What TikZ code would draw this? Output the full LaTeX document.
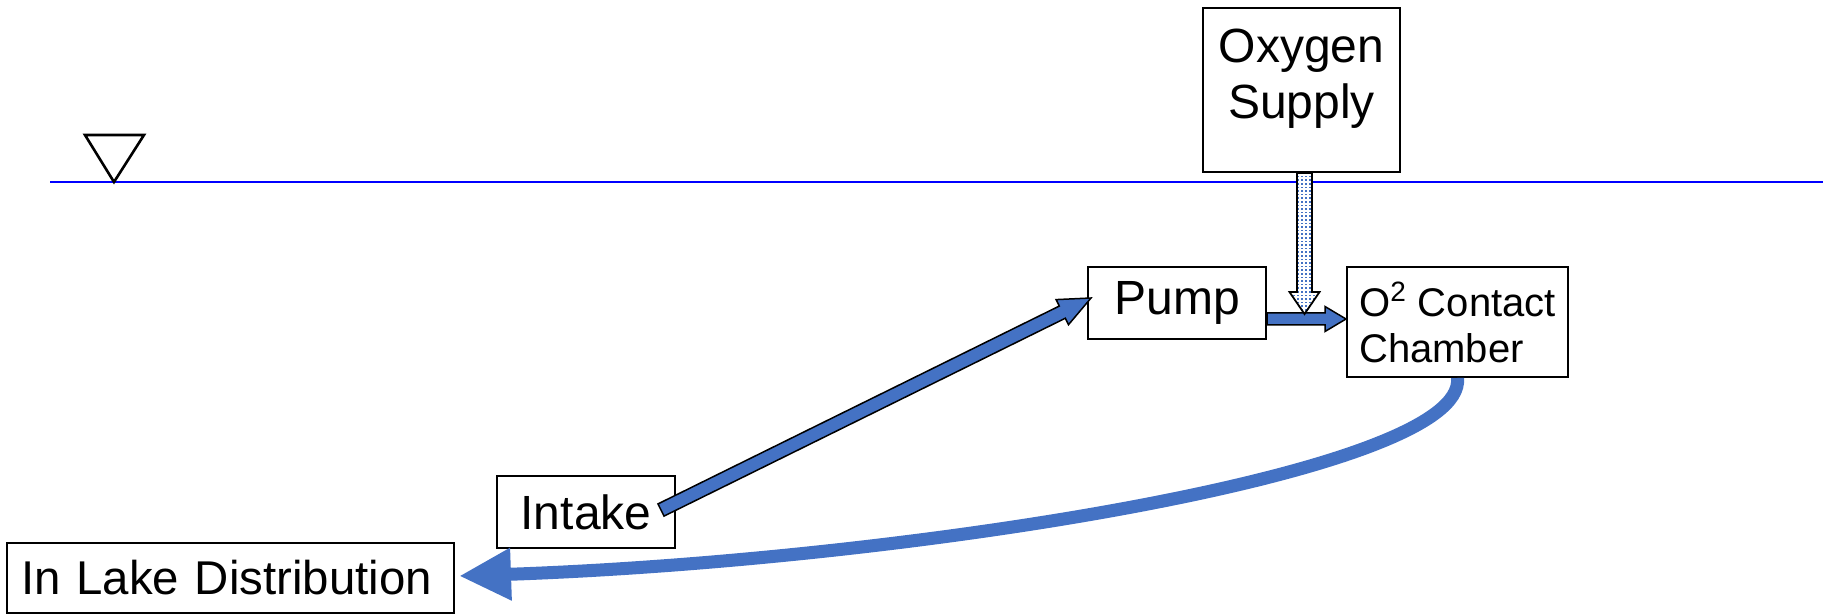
\documentclass[tikz,border=0pt]{standalone}
\usepackage{fontspec}
\setmainfont{Liberation Sans}
\usetikzlibrary{calc,arrows.meta,patterns}
\definecolor{flow}{HTML}{4472C4}
\definecolor{surface}{HTML}{0000FF}

% small square dots for the gas line
\pgfdeclarepatternformonly{bubbles}{\pgfpoint{-0.1pt}{-0.1pt}}{\pgfpoint{2.1pt}{2.1pt}}{\pgfpoint{2pt}{1.8pt}}%
  {\pgfpathrectangle{\pgfpoint{0.6pt}{0.5pt}}{\pgfpoint{0.85pt}{0.8pt}}\pgfusepath{fill}}

% filled block arrow from #2 to #3: half shaft #4, half head #5, head length #6
\newcommand{\blockarrow}[6][]{%
  \coordinate (#2-h) at ($(#3)!#6!(#2)$);
  \draw[#1] ($(#2)!#4!90:(#3)$) -- ($(#2-h)!#4!90:(#3)$)
    -- ($(#2-h)!#5!90:(#3)$) -- (#3)
    -- ($(#2-h)!#5!-90:(#3)$) -- ($(#2-h)!#4!-90:(#3)$)
    -- ($(#2)!#4!-90:(#3)$) -- cycle;}

\begin{document}
\begin{tikzpicture}[x=0.5pt, y=-0.5pt,
    box/.style={draw, line width=1pt, fill=white, inner sep=0pt, font=\fontsize{24}{28}\selectfont},
    pipe/.style={draw=black, line width=0.75pt, fill=flow},
    gas/.style={draw=black, line width=0.9pt, preaction={fill=white}, pattern=bubbles, pattern color=flow}]
  \useasboundingbox (0,0) rectangle (1831,614);

  % lake surface
  \draw[surface, line width=0.7pt] (50,182) -- (1823,182);
  \draw[line width=1.3pt] (85,135) -- (144,135) -- (114,182) -- cycle;

  \node[box, minimum width=89pt, minimum height=36pt] (intake) at (586,512) {Intake};
  \node[box, minimum width=89pt, minimum height=36pt] (pump) at (1177,303) {Pump};
  \node[box, minimum width=110.5pt, minimum height=55pt, align=left,
        font=\fontsize{20}{23}\selectfont] (chamber) at (1457.5,322) {O\textsuperscript{2} Contact\\Chamber};
  \node[box, minimum height=35pt, inner xsep=7pt, text width=209.5pt, align=left,
        font=\fontsize{23.7}{28}\selectfont] (lake) at (230.5,578) {In Lake Distribution};
  \node[box] (oxy) at (1301.5,90) {\parbox[c][82pt][t]{98.5pt}{\centering\vspace*{10.5pt}Oxygen\\Supply}};

  % return flow
  \draw[flow, line width=6.5pt, -{Triangle[length=26pt, width=24.5pt]}]
    (chamber.south) .. controls +(10,95) and +(440,-15) .. ($(lake.east)+(4,-2)$);

  \coordinate (in-a) at ($(intake.east)+(-15,-2)$);
  \coordinate (in-b) at ($(pump.west)+(4,-5)$);
  \blockarrow[pipe]{in-a}{in-b}{3.4pt}{7pt}{16pt}

  \coordinate (pc) at ($(pump.east)+(0,16)$);
  \coordinate (ch) at (pc -| chamber.west);
  \blockarrow[pipe]{pc}{ch}{3pt}{6.25pt}{10.5pt}

  \coordinate (ox) at ($(oxy.south)+(3,0)$);
  \coordinate (oxt) at ($(ox |- pc)+(0,-5)$);
  \blockarrow[gas]{ox}{oxt}{3.75pt}{7.5pt}{11pt}
\end{tikzpicture}
\end{document}
